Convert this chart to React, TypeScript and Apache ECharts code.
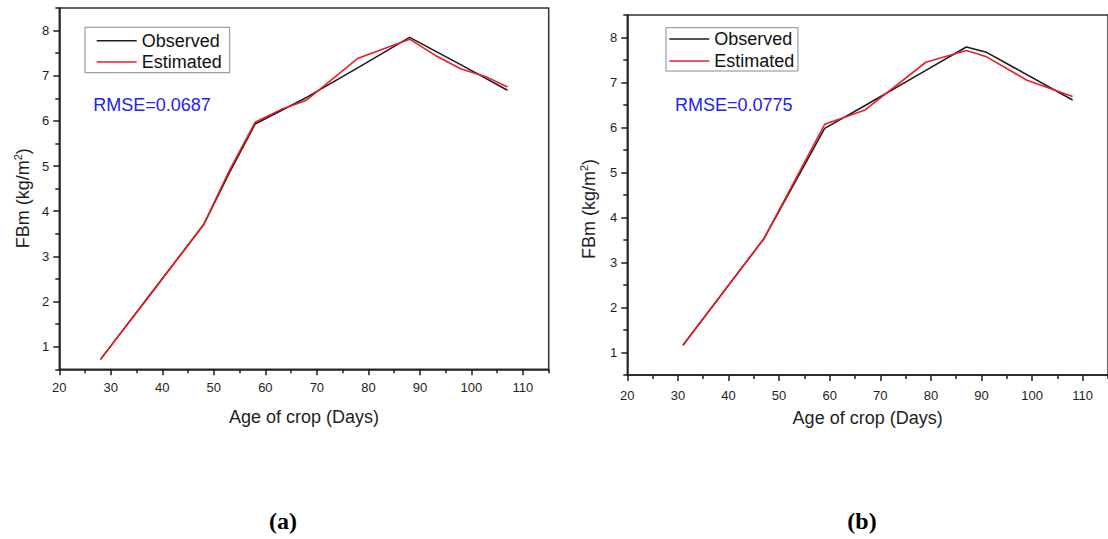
import React, { useEffect, useRef } from "react";
import * as echarts from "echarts";

// ---- Data ----
const daysObsA = [28, 38, 48, 53, 58, 68, 78, 88, 98, 107];
const observedA = [0.72, 2.21, 3.7, 4.85, 5.93, 6.52, 7.18, 7.85, 7.24, 6.68];
const daysEstA = [28, 38, 48, 53, 58, 63, 68, 78, 88, 93, 98, 103, 107];
const estimatedA = [0.72, 2.2, 3.7, 4.9, 5.97, 6.25, 6.46, 7.39, 7.81, 7.45, 7.15, 6.97, 6.75];

const daysObsB = [31, 47, 59, 67, 79, 87, 91, 108];
const observedB = [1.16, 3.53, 5.98, 6.49, 7.27, 7.79, 7.67, 6.61];
const daysEstB = [31, 47, 59, 67, 79, 87, 91, 99, 108];
const estimatedB = [1.16, 3.53, 6.07, 6.39, 7.45, 7.71, 7.57, 7.05, 6.69];

const xTicks = [20, 30, 40, 50, 60, 70, 80, 90, 100, 110];
const xMinorTicks = [25, 35, 45, 55, 65, 75, 85, 95, 105, 115];
const yTicks = [1, 2, 3, 4, 5, 6, 7, 8];
const yMinorTicks = [0.5, 1.5, 2.5, 3.5, 4.5, 5.5, 6.5, 7.5, 8.5];

const rmseA = "RMSE=0.0687";
const rmseB = "RMSE=0.0775";
const xTitle = "Age of crop (Days)";
const panelLabels = ["(a)", "(b)"];

const FONT = '"Liberation Sans", Arial, sans-serif';
const AX = "#1e1e1e";
const BLACK = "#1c1c1c";
const RED = "#ee1c25";
const BLUE = "#2222ee";

const pairs = (xs: number[], ys: number[]) => xs.map((x, i) => [x, ys[i]]);

export default function App() {
  const ref = useRef<HTMLDivElement>(null);
  useEffect(() => {
    if (!ref.current) return;
    const chart = echarts.init(ref.current, null, { renderer: "svg" });

    const grids = [
      { left: 59.3, top: 8, width: 489.4, height: 361.3, nameGap: 47.4, labelMargin: 12 },
      { left: 627.3, top: 15, width: 487.7, height: 360, nameGap: 43.3, labelMargin: 14 },
    ];

    const xAxes: any[] = [];
    const yAxes: any[] = [];
    grids.forEach((g, i) => {
      xAxes.push({
        type: "value",
        gridIndex: i,
        position: "bottom",
        min: 20,
        max: 115,
        name: xTitle,
        nameLocation: "middle",
        nameGap: g.nameGap,
        nameTextStyle: { fontFamily: FONT, fontSize: 18, color: AX, verticalAlign: "middle" },
        axisLine: { show: true, onZero: false, lineStyle: { color: AX, width: 1.5 } },
        axisTick: { show: true, customValues: xTicks, length: 6, inside: false, lineStyle: { color: AX, width: 1.5 } },
        axisLabel: { customValues: xTicks, margin: g.labelMargin, fontFamily: FONT, fontSize: 13, color: AX },
        splitLine: { show: false },
      });
      xAxes.push({
        type: "value",
        gridIndex: i,
        position: "bottom",
        min: 20,
        max: 115,
        axisLine: { show: false, onZero: false },
        axisTick: { show: true, customValues: xMinorTicks, length: 4, inside: false, lineStyle: { color: AX, width: 1.5 } },
        axisLabel: { show: false },
        splitLine: { show: false },
      });
      yAxes.push({
        type: "value",
        gridIndex: i,
        position: "left",
        min: 0.5,
        max: 8.5,
        axisLine: { show: true, onZero: false, lineStyle: { color: AX, width: 1.5 } },
        axisTick: { show: true, customValues: yTicks, length: 6, inside: false, lineStyle: { color: AX, width: 1.5 } },
        axisLabel: { customValues: yTicks, margin: 10, fontFamily: FONT, fontSize: 13, color: AX },
        splitLine: { show: false },
      });
      yAxes.push({
        type: "value",
        gridIndex: i,
        position: "left",
        min: 0.5,
        max: 8.5,
        axisLine: { show: false, onZero: false },
        axisTick: { show: true, customValues: yMinorTicks, length: 4, inside: false, lineStyle: { color: AX, width: 1.5 } },
        axisLabel: { show: false },
        splitLine: { show: false },
      });
    });

    const lineSeries = (name: string, data: number[][], color: string, gi: number) => ({
      type: "line",
      name,
      xAxisIndex: gi * 2,
      yAxisIndex: gi * 2,
      data,
      symbol: "none",
      showSymbol: false,
      lineStyle: { color, width: 1.6 },
      itemStyle: { color },
    });

    const legendBase = {
      orient: "vertical",
      icon: "rect",
      itemWidth: 40,
      itemHeight: 1.6,
      borderColor: "#8a8a8a",
      borderWidth: 1,
      backgroundColor: "#fff",
      selectedMode: false,
      textStyle: { fontFamily: FONT, fontSize: 18, color: "#111", lineHeight: 18 },
      data: ["Observed", "Estimated"],
    };

    const yTitle = (x: number, y: number) => ({
      type: "text",
      x,
      y,
      rotation: Math.PI / 2,
      style: {
        text: "{a|FBm (kg/m}{s|2}{a|)}",
        rich: {
          a: { fontFamily: FONT, fontSize: 18, fill: AX, lineHeight: 20, verticalAlign: "bottom" },
          s: { fontFamily: FONT, fontSize: 11, fill: AX, lineHeight: 20, verticalAlign: "top", padding: [0, 0, 6, 0] },
        },
        align: "center",
        verticalAlign: "middle",
        textAlign: "center",
        textVerticalAlign: "middle",
      },
    });

    const plainText = (x: number, y: number, text: string, font: any, fill: string, align = "left") => ({
      type: "text",
      x,
      y,
      style: {
        text,
        fill,
        ...font,
        align,
        verticalAlign: "middle",
        textAlign: align,
        textVerticalAlign: "middle",
      },
    });

    chart.setOption({
      animation: false,
      backgroundColor: "#ffffff",
      grid: grids.map((g) => ({
        left: g.left,
        top: g.top,
        width: g.width,
        height: g.height,
        show: true,
        borderColor: "#333",
        borderWidth: 1.5,
        backgroundColor: "transparent",
        containLabel: false,
      })),
      xAxis: xAxes,
      yAxis: yAxes,
      legend: [
        { ...legendBase, left: 85, top: 27.3, itemGap: 3.3, padding: [4.4, 8, 1.7, 11.7] },
        { ...legendBase, left: 666, top: 27.7, itemGap: 4, padding: [2.3, 3.6, 1, 3.3] },
      ],
      series: [
        lineSeries("Observed", pairs(daysObsA, observedA), BLACK, 0),
        lineSeries("Estimated", pairs(daysEstA, estimatedA), RED, 0),
        lineSeries("Observed", pairs(daysObsB, observedB), BLACK, 1),
        lineSeries("Estimated", pairs(daysEstB, estimatedB), RED, 1),
      ],
      graphic: [
        yTitle(22, 198.3),
        yTitle(588, 209),
        plainText(93.3, 105, rmseA, { fontFamily: FONT, fontSize: 18 }, BLUE),
        plainText(675, 105.3, rmseB, { fontFamily: FONT, fontSize: 18 }, BLUE),
        plainText(283, 521, panelLabels[0], { fontFamily: '"Liberation Serif", "Times New Roman", serif', fontSize: 24, fontWeight: "bold" }, "#000", "center"),
        plainText(862, 521, panelLabels[1], { fontFamily: '"Liberation Serif", "Times New Roman", serif', fontSize: 24, fontWeight: "bold" }, "#000", "center"),
      ],
    });
    return () => chart.dispose();
  }, []);

  return (
    <div
      ref={ref}
      style={{ position: "absolute", left: 0, top: 0, width: 1108, height: 539, background: "#fff" }}
    />
  );
}
